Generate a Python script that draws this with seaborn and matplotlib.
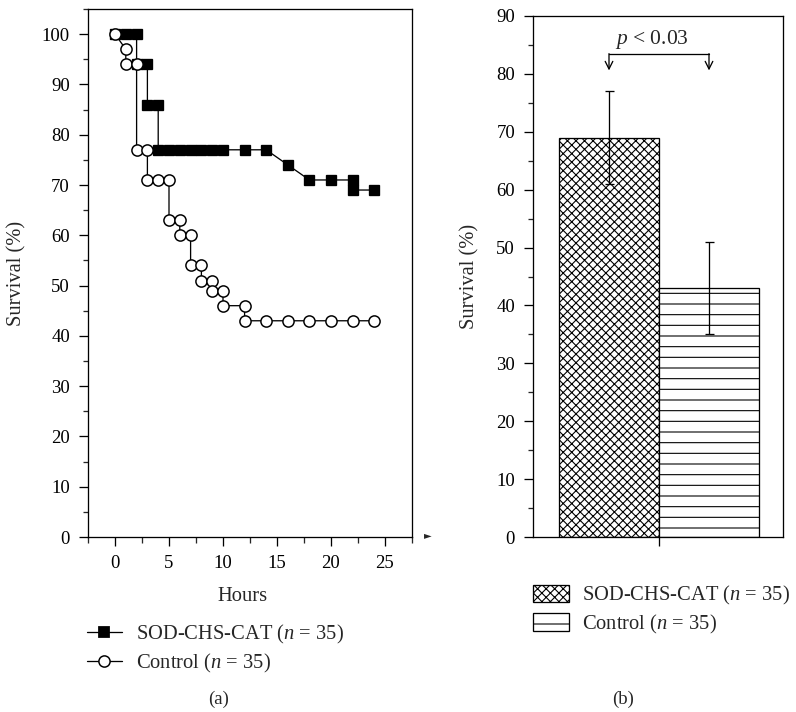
import matplotlib
matplotlib.use("Agg")
import matplotlib.pyplot as plt
from matplotlib.patches import Patch
from matplotlib.lines import Line2D
from matplotlib.ticker import MultipleLocator
import seaborn as sns

# Panel (a): survival curves (step points)
SOD_HOURS = [0, 1, 2, 2, 3, 3, 4, 4, 5, 6, 7, 8, 9, 10, 12, 14, 16, 18, 20, 22, 22, 24]
SOD_SURV = [100, 100, 100, 94, 94, 86, 86, 77, 77, 77, 77, 77, 77, 77, 77, 77, 74, 71, 71, 71, 69, 69]
CTRL_HOURS = [0, 1, 1, 2, 2, 3, 3, 4, 5, 5, 6, 6, 7, 7, 8, 8, 9, 9, 10, 10, 12, 12, 14, 16, 18, 20, 22, 24]
CTRL_SURV = [100, 97, 94, 94, 77, 77, 71, 71, 71, 63, 63, 60, 60, 54, 54, 51, 51, 49, 49, 46, 46, 43, 43, 43, 43, 43, 43, 43]

# Panel (b): final survival with error
GROUPS = ["SOD-CHS-CAT", "Control"]
MEAN_SURV = [69, 43]
SURV_ERR = [8, 8]
HATCHES = ["xxxxx", "--"]
BRACKET_Y = 83.5
ARROW_TIP_Y = 80.6

LEG_A = ["SOD-CHS-CAT ($n$ = 35)", "Control ($n$ = 35)"]
LEG_B = ["SOD-CHS-CAT ($n$ = 35)", "Control ($n$ = 35)"]

DPI = 128
W, H = 796, 712


def p(px):
    # pixels -> points at the figure dpi
    return px * 72 / DPI


sns.set_theme(style="ticks")
plt.rcParams["font.family"] = ["Liberation Serif", "DejaVu Serif"]
plt.rcParams["mathtext.fontset"] = "custom"
plt.rcParams["mathtext.rm"] = "Liberation Serif"
plt.rcParams["mathtext.it"] = "Liberation Serif:italic"
plt.rcParams["hatch.linewidth"] = p(1.1)
plt.rcParams["axes.linewidth"] = p(1.3)

TICK_FS = p(18.8)
LABEL_FS = p(20.5)
LEG_FS = p(20.5)
LW = p(1.3)

fig = plt.figure(figsize=(W / DPI, H / DPI), dpi=DPI)


def px_axes(x0, x1, ytop, ybot):
    return fig.add_axes([x0 / W, 1 - ybot / H, (x1 - x0) / W, (ybot - ytop) / H])


def style_ticks(ax):
    ax.tick_params(which="major", direction="out", length=p(9), width=LW,
                   labelsize=TICK_FS, colors="black", pad=p(9))
    ax.tick_params(which="minor", direction="out", length=p(5.5), width=LW)
    for s in ax.spines.values():
        s.set_visible(True)
        s.set_color("black")
        s.set_linewidth(LW)


# ---------- (a) ----------
ax1 = px_axes(88, 412, 9, 537)
sns.lineplot(x=SOD_HOURS, y=SOD_SURV, estimator=None, sort=False, ax=ax1,
             color="black", linewidth=LW, marker="s", markersize=p(10.4),
             markerfacecolor="black", markeredgecolor="black")
sns.lineplot(x=CTRL_HOURS, y=CTRL_SURV, estimator=None, sort=False, ax=ax1,
             color="black", linewidth=LW, marker="o", markersize=p(11.2),
             markerfacecolor="white", markeredgecolor="black", markeredgewidth=p(1.5))
ax1.set_xlim(-2.5, 27.5)
ax1.set_ylim(0, 105)
ax1.set_xticks(range(0, 26, 5))
ax1.xaxis.set_minor_locator(MultipleLocator(2.5))
ax1.set_yticks(range(0, 101, 10))
ax1.yaxis.set_minor_locator(MultipleLocator(5))
style_ticks(ax1)
ax1.set_xlabel("Hours", fontsize=LABEL_FS)
ax1.set_ylabel("Survival (%)", fontsize=LABEL_FS)
ax1.xaxis.set_label_coords(0.478, -0.095)
ax1.yaxis.set_label_coords(-0.19, 0.5)

handles_a = [
    Line2D([], [], color="black", linewidth=LW, marker="s", markersize=p(10.4),
           markerfacecolor="black", markeredgecolor="black"),
    Line2D([], [], color="black", linewidth=LW, marker="o", markersize=p(11.2),
           markerfacecolor="white", markeredgecolor="black", markeredgewidth=p(1.5)),
]
fig.legend(handles_a, LEG_A, loc="upper left", bbox_to_anchor=(87 / W, 1 - 623 / H),
           frameon=False, fontsize=LEG_FS, handlelength=1.7, handletextpad=0.7,
           borderpad=0, borderaxespad=0, labelspacing=0.28)
fig.text(219 / W, 1 - 699 / H, "(a)", ha="center", va="center", fontsize=TICK_FS)
fig.text(428 / W, 1 - 535 / H, "\u25ba", ha="center", va="center", fontsize=p(10),
         family="DejaVu Sans")

# ---------- (b) ----------
ax2 = px_axes(533, 783, 16, 537)
sns.barplot(x=GROUPS, y=MEAN_SURV, width=1.0, color="white", edgecolor="black",
            linewidth=LW, errorbar=None, ax=ax2)
for bar, h in zip(ax2.patches, HATCHES):
    bar.set_hatch(h)
ax2.errorbar(range(len(GROUPS)), MEAN_SURV, yerr=SURV_ERR, fmt="none",
             ecolor="black", elinewidth=LW, capsize=p(4.5), capthick=LW)
ax2.set_xlim(-0.76, 1.74)
ax2.set_ylim(0, 90)
ax2.set_xticks([0.5])
ax2.set_xticklabels([""])
ax2.set_xlabel("")
ax2.set_yticks(range(0, 91, 10))
ax2.yaxis.set_minor_locator(MultipleLocator(5))
style_ticks(ax2)
ax2.set_ylabel("Survival (%)", fontsize=LABEL_FS)
ax2.yaxis.set_label_coords(-0.215, 0.5)

# significance bracket
ax2.plot([0, 1], [BRACKET_Y, BRACKET_Y], color="black", linewidth=LW)
for xi in range(len(GROUPS)):
    ax2.annotate("", xy=(xi, ARROW_TIP_Y), xytext=(xi, BRACKET_Y),
                 arrowprops=dict(arrowstyle="->", color="black", lw=LW,
                                 shrinkA=0, shrinkB=0, mutation_scale=p(19)))
ax2.text(0.43, 85.2, "$p$ < 0.03", ha="center", va="baseline", fontsize=p(21.5))

handles_b = [Patch(facecolor="white", edgecolor="black", hatch=h, linewidth=LW)
             for h in HATCHES]
fig.legend(handles_b, LEG_B, loc="upper left", bbox_to_anchor=(533 / W, 1 - 584 / H),
           frameon=False, fontsize=LEG_FS, handlelength=1.75, handleheight=0.95,
           handletextpad=0.65, borderpad=0, borderaxespad=0, labelspacing=0.28)
fig.text(623 / W, 1 - 699 / H, "(b)", ha="center", va="center", fontsize=TICK_FS)

fig.savefig("out.png", dpi=DPI)
